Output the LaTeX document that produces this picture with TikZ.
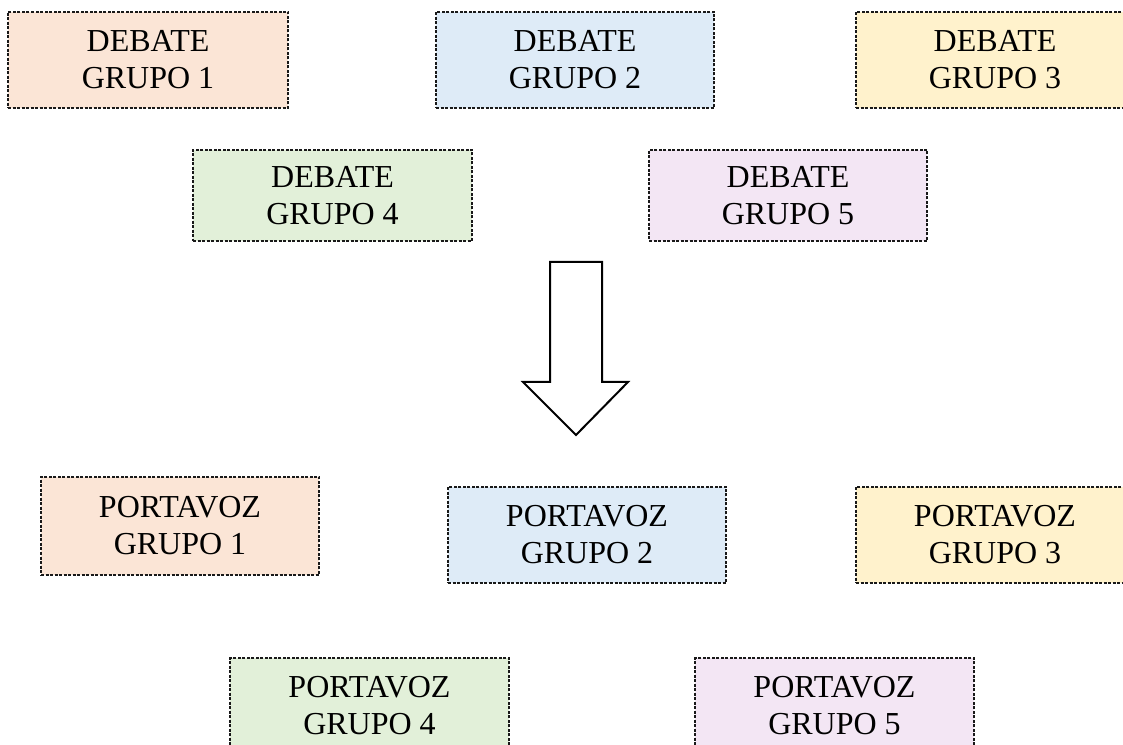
\documentclass[tikz,border=0pt]{standalone}
\usepackage{fontspec}
\setmainfont{Liberation Serif}
\definecolor{cOrange}{HTML}{FBE5D6}
\definecolor{cBlue}{HTML}{DEEBF7}
\definecolor{cYellow}{HTML}{FFF2CC}
\definecolor{cGreen}{HTML}{E2F0D9}
\definecolor{cPurple}{HTML}{F3E6F4}
\tikzset{
  gbox/.style={draw=black!90, line width=1.3pt, dash pattern=on 3pt off 1.5pt,
    rectangle, inner sep=0pt, align=center,
    font=\fontsize{32}{37}\selectfont, minimum width=278pt, minimum height=96pt},
  bigarrow/.style={draw=black, line width=2pt, fill=white, line join=miter}
}
\begin{document}
\begin{tikzpicture}[x=1pt,y=1pt]
\useasboundingbox (0,0) rectangle (1123,744);
\clip (0,0) rectangle (1123,744);
% debate boxes
\node[gbox, fill=cOrange, minimum width=280pt] (d1) at (148,684) {DEBATE\\GRUPO 1};
\node[gbox, fill=cBlue] (d2) at (575,684) {DEBATE\\GRUPO 2};
\node[gbox, fill=cYellow] (d3) at (995,684) {DEBATE\\GRUPO 3};
\node[gbox, fill=cGreen, minimum width=279pt, minimum height=91pt] (d4) at (332.5,548.5) {DEBATE\\GRUPO 4};
\node[gbox, fill=cPurple, minimum height=91pt] (d5) at (788,548.5) {DEBATE\\GRUPO 5};
% arrow
\draw[bigarrow] (550,482) -- (602,482) -- (602,362) -- (628,362) -- (576,309)
  -- (523,362) -- (550,362) -- cycle;
% portavoz boxes
\node[gbox, fill=cOrange, minimum height=98pt] (p1) at (180,218) {PORTAVOZ\\GRUPO 1};
\node[gbox, fill=cBlue] (p2) at (587,209) {PORTAVOZ\\GRUPO 2};
\node[gbox, fill=cYellow] (p3) at (995,209) {PORTAVOZ\\GRUPO 3};
\node[gbox, fill=cGreen, minimum width=279pt] (p4) at (369.5,38) {PORTAVOZ\\GRUPO 4};
\node[gbox, fill=cPurple, minimum width=279pt] (p5) at (834.5,38) {PORTAVOZ\\GRUPO 5};
\end{tikzpicture}
\end{document}
